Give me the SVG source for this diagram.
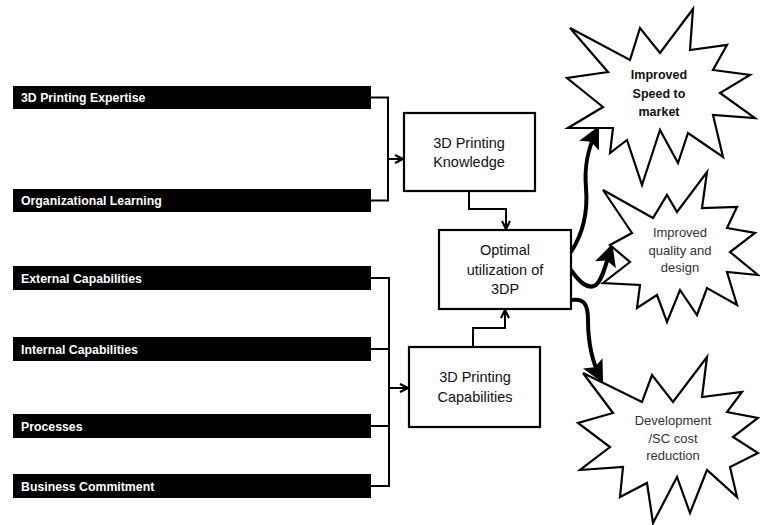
<svg xmlns="http://www.w3.org/2000/svg" width="760" height="525" viewBox="0 0 760 525">
<defs>
<style>
.bar{fill:#000}
.bt{fill:#fff;font-family:"Liberation Sans",Arial,sans-serif;font-size:12.3px;font-weight:bold}
.box{fill:#fff;stroke:#000;stroke-width:2.2}
.t{font-family:"Liberation Sans",Arial,sans-serif;font-size:14.5px;fill:#111;text-anchor:middle}
.st{fill:#fff;stroke:#000;stroke-width:2.2;stroke-linejoin:miter}
.s1{font-family:"Liberation Sans",Arial,sans-serif;font-size:12.5px;font-weight:bold;fill:#111;text-anchor:middle}
.s2{font-family:"Liberation Sans",Arial,sans-serif;font-size:13px;fill:#333;text-anchor:middle}
.ln{fill:none;stroke:#000;stroke-width:2}
.cv{fill:none;stroke:#000;stroke-width:4;stroke-linecap:round}
</style>
<marker id="ah" viewBox="0 0 10 10" refX="9" refY="5" markerWidth="10" markerHeight="10" orient="auto" markerUnits="userSpaceOnUse">
<path d="M1,1 L9,5 L1,9" fill="none" stroke="#000" stroke-width="2.2"/>
</marker>
<marker id="ah2" viewBox="0 0 10 10" refX="8" refY="5" markerWidth="5.5" markerHeight="5.5" orient="auto">
<path d="M0,0 L10,5 L0,10 L2,5 Z" fill="#000"/>
</marker>
</defs>
<g id="connectors">
<path class="ln" d="M371,97.5 H388 V200.5 H371"/>
<path class="ln" d="M388,159 H403" marker-end="url(#ah)"/>
<path class="ln" d="M371,278 H389 V486 H371 M371,349 H389 M371,426 H389"/>
<path class="ln" d="M389,388 H408" marker-end="url(#ah)"/>
<path class="ln" d="M469,191 V209 H506 V229" marker-end="url(#ah)"/>
<path class="ln" d="M473,347 V328 H505 V310" marker-end="url(#ah)"/>
<path class="cv" d="M571,252 C584,232 588,212 586,188 C584,165 588,148 597,130" marker-end="url(#ah2)"/>
<path class="cv" d="M571,270 C580,283 588,290 596,285 C603,279 606,263 611,248" marker-end="url(#ah2)"/>
<path class="cv" d="M571,300 C584,298 588,304 588,320 C588,345 592,362 601,379" marker-end="url(#ah2)"/>
</g>
<g id="bar1"><rect class="bar" x="13" y="86" width="358" height="23"/><text class="bt" x="21" y="102">3D Printing Expertise</text></g>
<g id="bar2"><rect class="bar" x="13" y="189" width="358" height="23"/><text class="bt" x="21" y="205">Organizational Learning</text></g>
<g id="bar3"><rect class="bar" x="13" y="266" width="358" height="24"/><text class="bt" x="21" y="282.5">External Capabilities</text></g>
<g id="bar4"><rect class="bar" x="13" y="337" width="358" height="24"/><text class="bt" x="21" y="353.5">Internal Capabilities</text></g>
<g id="bar5"><rect class="bar" x="13" y="414" width="358" height="24"/><text class="bt" x="21" y="430.5">Processes</text></g>
<g id="bar6"><rect class="bar" x="13" y="474" width="358" height="24"/><text class="bt" x="21" y="490.5">Business Commitment</text></g>
<g id="knowledge"><rect class="box" x="404" y="113" width="131" height="78"/><text class="t" x="469" y="148">3D Printing</text><text class="t" x="469" y="167">Knowledge</text></g>
<g id="optimal"><rect class="box" x="439" y="230" width="132" height="79"/><text class="t" x="505" y="255">Optimal</text><text class="t" x="505" y="275">utilization of</text><text class="t" x="505" y="294">3DP</text></g>
<g id="capabilities"><rect class="box" x="409" y="347" width="131" height="80"/><text class="t" x="475" y="382">3D Printing</text><text class="t" x="475" y="402">Capabilities</text></g>
<g id="star1"><polygon class="st" points="570,28 630,60 640,28 660,53 693,9 690,50 727,45 713,70 750,75 720,93 755,118 713,115 723,157 688,133 678,163 660,130 642,185 627,140 610,153 613,128 568,128 603,107 567,78 608,72"/><text class="s1" x="659" y="79">Improved</text><text class="s1" x="659" y="98">Speed to</text><text class="s1" x="659" y="116">market</text></g>
<g id="star2"><polygon class="st" points="603,190 653,218 667,195 677,212 707,172 702,208 737,207 727,228 755,233 730,252 758,275 727,272 737,305 707,288 697,315 680,290 667,322 657,295 637,308 640,285 603,283 630,262 610,245 632,233"/><text class="s2" x="680" y="237">Improved</text><text class="s2" x="680" y="255">quality and</text><text class="s2" x="680" y="272">design</text></g>
<g id="star3"><polygon class="st" points="583,373 642,402 652,375 673,402 707,357 702,397 742,392 727,412 758,418 733,437 758,453 730,467 737,497 707,470 690,513 677,477 653,523 647,483 620,497 623,467 580,470 610,447 578,423 613,413"/><text class="s2" x="673" y="425">Development</text><text class="s2" x="673" y="443">/SC cost</text><text class="s2" x="673" y="460">reduction</text></g>
</svg>
